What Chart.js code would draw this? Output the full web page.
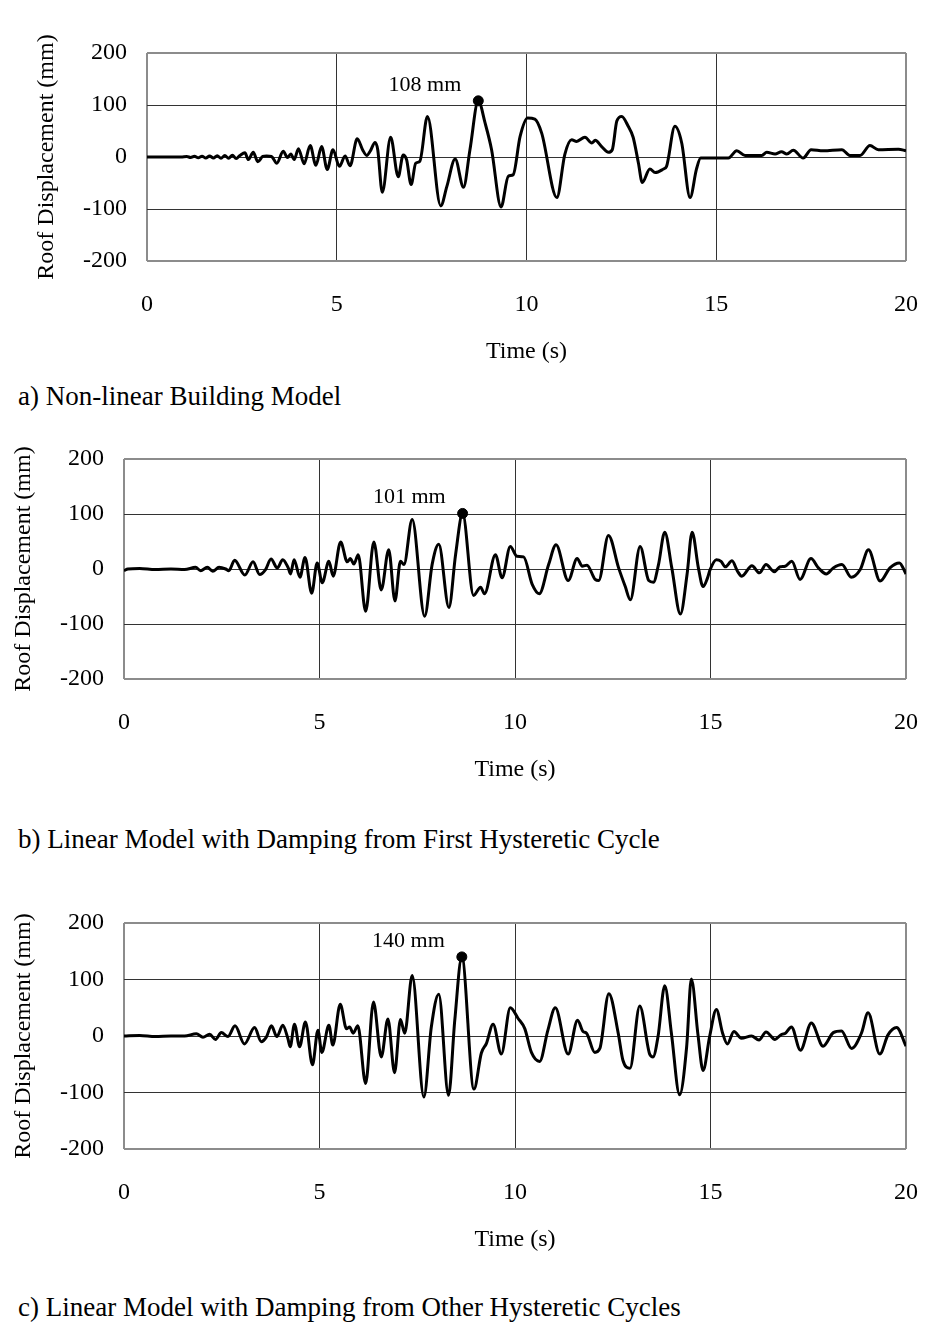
<!DOCTYPE html>
<html>
<head>
<meta charset="utf-8">
<script src="https://cdn.jsdelivr.net/npm/chart.js@4/dist/chart.umd.min.js"></script>
<style>
  body { margin: 0; background: #fff; }
  #page { position: relative; width: 925px; height: 1325px; font-family: 'Liberation Serif', 'Times New Roman', serif; }
  canvas { position: absolute; left: 0; }
  .caption { position: absolute; left: 18px; font-size: 27px; line-height: 27px; color: #000; white-space: nowrap; }
</style>
</head>
<body>
<div id="page">
  <canvas id="chartA" width="925" height="375" style="top:0px"></canvas>
  <div class="caption" style="top:383px">a) Non-linear Building Model</div>
  <canvas id="chartB" width="925" height="375" style="top:420px"></canvas>
  <div class="caption" style="top:826px">b) Linear Model with Damping from First Hysteretic Cycle</div>
  <canvas id="chartC" width="925" height="375" style="top:885px"></canvas>
  <div class="caption" style="top:1294px">c) Linear Model with Damping from Other Hysteretic Cycles</div>
</div>
<script>
// axis ticks
var timeTicks = [0, 5, 10, 15, 20];
var dispTicks = [-200, -100, 0, 100, 200];

// a) non-linear building model
var nlTime = [0, 0.5, 0.9, 1.05, 1.15, 1.25, 1.35, 1.45, 1.55, 1.65, 1.75, 1.85, 1.95, 2.05, 2.15, 2.25, 2.35, 2.45,
  2.58, 2.67, 2.80, 2.92, 3.05, 3.15, 3.28, 3.42, 3.59, 3.70, 3.79, 3.88, 3.99, 4.14, 4.30, 4.45, 4.60, 4.75, 4.90,
  5.07, 5.22, 5.35, 5.54, 5.68, 5.79, 5.88, 6.01, 6.08, 6.20, 6.42, 6.62, 6.75, 6.84, 6.96, 7.08, 7.19, 7.39, 7.74,
  7.90, 8.12, 8.34, 8.51, 8.73, 8.91, 9.08, 9.33, 9.52, 9.65, 9.83, 10.03, 10.22, 10.40, 10.80, 11.01, 11.19, 11.32,
  11.54, 11.72, 11.81, 11.98, 12.16, 12.26, 12.38, 12.51, 12.68, 12.81, 12.95, 13.05, 13.25, 13.39, 13.61, 13.69,
  13.91, 14.09, 14.31, 14.48, 14.59, 15.01, 15.32, 15.54, 15.76, 16.20, 16.33, 16.55, 16.72, 16.86, 17.03, 17.29,
  17.50, 17.82, 18.31, 18.52, 18.79, 19.05, 19.27, 19.80, 20];
var nlDisp = [0, 0, 0, 1, -1, 1.5, -1.5, 1.5, -2, 2, -2, 2.5, -2.5, 3, -2.5, 3.5, -3, 3,
  8, -5, 9, -9, 1, 2, 1, -12, 11, -1, 6, -5, 16, -13, 22, -16, 20, -24, 14,
  -18, 2, -17, 35, 14, 3, 11, 28, 14, -68, 38, -38, 4, -5, -53, -12, -8, 78, -94,
  -57, -4, -58, 14, 108, 65, 14, -96, -37, -34, 39, 75, 73, 46, -78, 5, 33, 30,
  38, 27, 32, 20, 9, 14, 69, 78, 59, 38, -12, -49, -23, -30, -23, -18,
  59, 27, -78, -23, -2, -2, -2, 12, 3, 3, 9, 6, 10, 6, 13, -2,
  14, 12, 14, 3, 3, 22, 14, 15, 12];
var nlPeak = [8.73, 108];

// b) linear model, damping from first hysteretic cycle
var firstTime = [0, 0.1, 0.4, 0.8, 1.2, 1.55, 1.83, 1.96, 2.13, 2.27, 2.43, 2.60, 2.68, 2.83, 3.09, 3.30, 3.47, 3.62,
  3.76, 3.92, 4.06, 4.20, 4.26, 4.35, 4.50, 4.63, 4.80, 4.94, 5.07, 5.24, 5.35, 5.54, 5.71, 5.79, 5.88, 5.99, 6.18,
  6.39, 6.58, 6.77, 6.93, 7.07, 7.16, 7.37, 7.69, 7.88, 8.05, 8.31, 8.48, 8.66, 8.94, 9.12, 9.22, 9.50, 9.67, 9.88,
  10.05, 10.22, 10.44, 10.62, 10.86, 11.05, 11.36, 11.59, 11.72, 11.84, 12.05, 12.14, 12.39, 12.65, 12.82, 12.95,
  13.20, 13.42, 13.54, 13.67, 13.83, 14.01, 14.23, 14.40, 14.53, 14.69, 14.81, 14.92, 14.99, 15.15, 15.27, 15.38,
  15.55, 15.69, 15.80, 16.06, 16.25, 16.42, 16.63, 16.78, 16.91, 17.08, 17.29, 17.57, 17.76, 17.96, 18.14, 18.36,
  18.60, 18.83, 19.04, 19.34, 19.59, 19.83, 20];
var firstDisp = [-3, 0, 1, -1, 0, -1, 3, -3, 3, -4, 3, 0, -3, 16, -11, 13, -10, -1,
  18, 2, 17, 2, -9, 17, -15, 21, -44, 11, -25, 14, -13, 49, 13, 19, 9, 26, -77,
  49, -38, 35, -58, 14, 8, 90, -86, 8, 45, -70, 26, 101, -48, -33, -45, 26, -16, 41,
  23, 22, -28, -45, 8, 44, -21, 19, 5, 7, -19, -21, 61, 2, -32, -56,
  41, -21, -24, 8, 67, 2, -82, -10, 67, 2, -32, -17, -1, 17, 14, 4,
  15, -4, -13, 6, -7, 8, -5, 4, 5, 14, -19, 19, 2, -9, 2, 8,
  -15, -1, 35, -22, 2, 11, -9];
var firstPeak = [8.66, 101];

// c) linear model, damping from other hysteretic cycles
var otherTime = [0, 0.4, 0.8, 1.2, 1.55, 1.85, 2.02, 2.19, 2.34, 2.49, 2.66, 2.84, 3.08, 3.34, 3.51, 3.64, 3.77, 3.91,
  4.06, 4.19, 4.25, 4.36, 4.49, 4.64, 4.82, 4.96, 5.06, 5.24, 5.34, 5.53, 5.69, 5.77, 5.86, 5.98, 6.18, 6.38, 6.58,
  6.75, 6.92, 7.07, 7.18, 7.37, 7.67, 7.86, 8.05, 8.30, 8.46, 8.64, 8.95, 9.14, 9.27, 9.44, 9.65, 9.88, 10.08, 10.25,
  10.42, 10.63, 10.84, 11.03, 11.36, 11.60, 11.74, 11.83, 12.04, 12.17, 12.40, 12.64, 12.76, 12.94, 13.19, 13.45,
  13.53, 13.66, 13.83, 14.00, 14.21, 14.39, 14.51, 14.68, 14.81, 14.98, 15.15, 15.31, 15.43, 15.60, 15.79, 16.05,
  16.24, 16.42, 16.65, 16.82, 16.90, 17.07, 17.30, 17.58, 17.88, 18.14, 18.35, 18.61, 18.86, 19.03, 19.33, 19.54,
  19.76, 20];
var otherDisp = [0, 1, -1, 0, 0, 4, -2, 3, -6, 6, -1, 18, -14, 15, -10, -2, 18, -1,
  19, -4, -19, 21, -19, 25, -51, 10, -29, 19, -16, 56, 13, 16, 5, 18, -84, 60, -37,
  30, -65, 29, 5, 107, -108, 16, 74, -105, 28, 140, -94, -30, -13, 21, -32, 50, 31, 13,
  -29, -45, 10, 50, -32, 28, 8, 5, -29, -22, 75, 5, -43, -57, 53, -33,
  -37, 0, 89, 5, -104, -19, 101, 2, -61, 0, 47, 5, -14, 8, -4, 0,
  -7, 7, -6, 3, 4, 16, -25, 23, -18, 6, 9, -22, 5, 41, -32, 2,
  15, -18];
var otherPeak = [8.64, 140];

var serif = "'Liberation Serif', 'Times New Roman', serif";

// writes "xxx mm" up and to the left of the peak marker
var peakLabel = {
  id: 'peakLabel',
  afterDatasetsDraw: function(chart, args, opts) {
    var px = chart.scales.x.getPixelForValue(opts.t);
    var py = chart.scales.y.getPixelForValue(opts.v);
    var c = chart.ctx;
    c.save();
    c.font = '22px ' + serif;
    c.fillStyle = '#000';
    c.textAlign = 'right';
    c.textBaseline = 'middle';
    c.fillText(opts.v + ' mm', px - 17, py - 16);
    c.restore();
  }
};

function toPoints(ts, vs) {
  var pts = [];
  for (var i = 0; i < ts.length; i++) {
    pts.push({x: ts[i], y: vs[i]});
  }
  return pts;
}

function edgeColor(val, lo, hi) {
  return (val === lo || val === hi) ? '#8c8c8c' : '#333';
}

function makeChart(id, ts, vs, peak, g) {
  var lh = 24 * 1.2;
  return new Chart(document.getElementById(id), {
    type: 'line',
    data: {
      datasets: [
        {
          data: [{x: peak[0], y: peak[1]}],
          showLine: false,
          pointRadius: 5,
          pointBackgroundColor: '#000',
          pointBorderColor: '#000'
        },
        {
          data: toPoints(ts, vs),
          borderColor: '#000',
          borderWidth: 3,
          pointRadius: 0,
          fill: false,
          cubicInterpolationMode: 'monotone'
        }
      ]
    },
    options: {
      responsive: false,
      animation: false,
      events: [],
      layout: { padding: { left: 0, right: 19, top: g.top, bottom: 0 } },
      plugins: {
        legend: { display: false },
        tooltip: { enabled: false },
        peakLabel: { t: peak[0], v: peak[1] }
      },
      scales: {
        x: {
          type: 'linear',
          min: 0,
          max: 20,
          afterBuildTicks: function(s) { s.ticks = timeTicks.map(function(v) { return {value: v}; }); },
          afterFit: function(s) {
            s.height = g.xh;
            // tick padding should not eat into the plot width
            s.paddingLeft = 0;
            s.paddingRight = 0;
          },
          ticks: { color: '#000', padding: 44 - lh / 2, font: { family: serif, size: 24 } },
          grid: {
            drawTicks: false,
            color: function(c) { return edgeColor(c.tick.value, 0, 20); },
            lineWidth: function(c) { return (c.tick.value === 0 || c.tick.value === 20) ? 2 : 1; }
          },
          border: { display: false },
          title: {
            display: true,
            text: 'Time (s)',
            color: '#000',
            font: { family: serif, size: 24 },
            padding: { top: 0, bottom: g.xh - 91 - lh / 2 }
          }
        },
        y: {
          min: -200,
          max: 200,
          afterBuildTicks: function(s) { s.ticks = dispTicks.map(function(v) { return {value: v}; }); },
          afterFit: function(s) { s.width = g.yw; },
          ticks: { color: '#000', padding: 20, font: { family: serif, size: 24 } },
          grid: {
            drawTicks: false,
            color: function(c) { return edgeColor(c.tick.value, -200, 200); },
            lineWidth: function(c) { return (c.tick.value === -200 || c.tick.value === 200) ? 2 : 1; }
          },
          border: { display: false },
          title: {
            display: true,
            text: 'Roof Displacement (mm)',
            color: '#000',
            font: { family: serif, size: 24 },
            padding: { top: g.tx - lh / 2, bottom: 0 }
          }
        }
      }
    },
    plugins: [peakLabel]
  });
}

makeChart('chartA', nlTime, nlDisp, nlPeak, { top: 53, yw: 147, xh: 114, tx: 47 });
makeChart('chartB', firstTime, firstDisp, firstPeak, { top: 39, yw: 124, xh: 116, tx: 24 });
makeChart('chartC', otherTime, otherDisp, otherPeak, { top: 38, yw: 124, xh: 111, tx: 24 });
</script>
</body>
</html>
